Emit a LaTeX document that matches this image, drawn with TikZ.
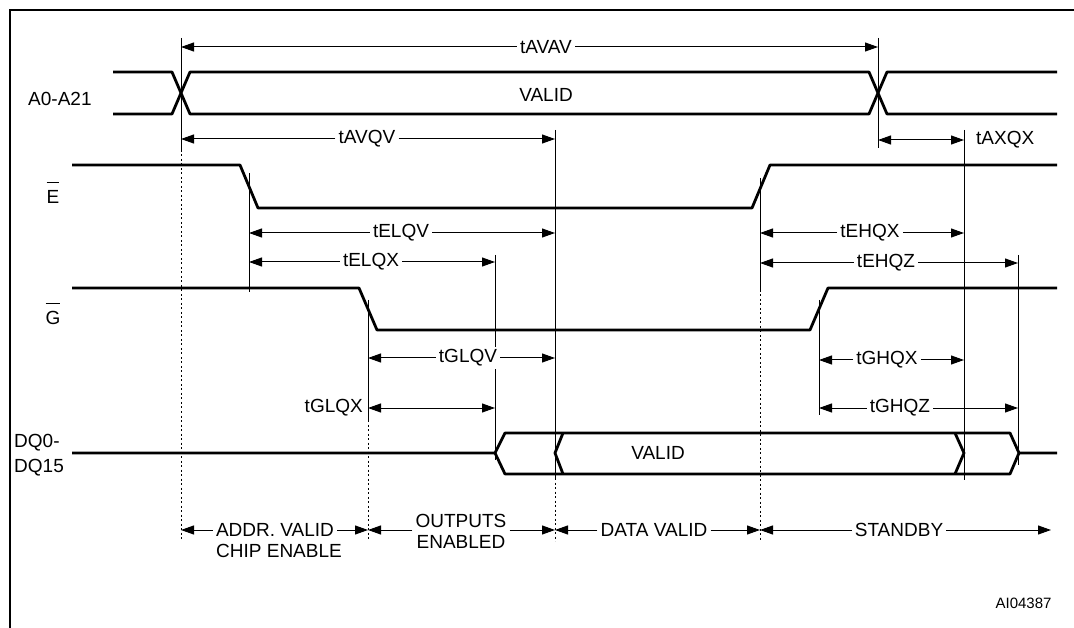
\documentclass[tikz,border=0pt]{standalone}
\usepackage{fontspec}
\setmainfont{Liberation Sans}
\usetikzlibrary{arrows.meta}
\newcommand{\lowact}[1]{$\overline{\mbox{\rule{0pt}{1.05em}#1}}$}

\begin{document}
\begin{tikzpicture}[x=1pt,y=-1pt,
	sig/.style={line width=2.8pt, line join=round},
	tline/.style={line width=1pt},
	dotline/.style={line width=1pt, dash pattern=on 2pt off 2.5pt},
	dim/.style={line width=1pt, -{Triangle[length=13pt,width=9pt]}},
	dimboth/.style={line width=1pt, {Triangle[length=13pt,width=9pt]}-{Triangle[length=13pt,width=9pt]}},
	lbl/.style={font=\fontsize{19}{23}\selectfont, inner sep=3pt, fill=white}]
	\useasboundingbox (0,0) rectangle (1074,628);
	\draw[line width=2.5pt] (10,640) -- (10,10) -- (1080,10);

	\coordinate (xa) at (181,0);
	\coordinate (xb) at (878,0);
	\coordinate (xc) at (555,0);
	\coordinate (xd) at (964,0);
	\coordinate (xe) at (249,0);
	\coordinate (xf) at (495,0);
	\coordinate (xg) at (368,0);
	\coordinate (xh) at (760,0);
	\coordinate (xi) at (819,0);
	\coordinate (xj) at (1018,0);
	\coordinate (xk) at (1051,0);

	% reference lines
	\draw[tline] (xa |- 0,38) -- (xa |- 0,150);
	\draw[dotline] (xa |- 0,150) -- (xa |- 0,541);
	\draw[tline] (xb |- 0,38) -- (xb |- 0,148);
	\draw[tline] (xc |- 0,130) -- (xc |- 0,478);
	\draw[dotline] (xc |- 0,478) -- (xc |- 0,541);
	\draw[tline] (xd |- 0,130) -- (xd |- 0,480);
	\draw[tline] (xe |- 0,173) -- (xe |- 0,292);
	\draw[tline] (xf |- 0,255) -- (xf |- 0,460);
	\draw[tline] (xg |- 0,300) -- (xg |- 0,420);
	\draw[dotline] (xg |- 0,420) -- (xg |- 0,541);
	\draw[tline] (xh |- 0,178) -- (xh |- 0,290);
	\draw[dotline] (xh |- 0,290) -- (xh |- 0,541);
	\draw[tline] (xi |- 0,300) -- (xi |- 0,415);
	\draw[tline] (xj |- 0,255) -- (xj |- 0,465);

	% signal names
	\node[lbl, anchor=west] (sigA) at (25,99) {A0-A21};
	\node[lbl] (sigE) at (53,193) {\lowact{E}};
	\node[lbl] (sigG) at (53,314) {\lowact{G}};
	\node[lbl, anchor=west, align=left, font=\fontsize{19}{25}\selectfont] (sigDQ) at (11,455) {DQ0-\\DQ15};

	% waveforms
	\draw[sig] (113,72) -- (172,72) -- (190,114) -- (869,114) -- (887,72) -- (1057,72);
	\draw[sig] (113,114) -- (172,114) -- (190,72) -- (869,72) -- (887,114) -- (1057,114);
	\draw[sig] (72,165) -- (240,165) -- (258,208) -- (752,208) -- (770,165) -- (1057,165);
	\draw[sig] (72,288) -- (359,288) -- (377,330) -- (810,330) -- (828,288) -- (1057,288);
	\draw[sig] (72,453) -- (495,453) -- (505,433) -- (1010,433) -- (1019,453) -- (1057,453);
	\draw[sig] (495,453) -- (505,474) -- (1010,474) -- (1019,453);
	\draw[sig] (563,433) -- (555,453) -- (563,474);
	\draw[sig] (955,433) -- (964,453) -- (955,474);
	\node[lbl, fill=none] (validA) at (546,95) {VALID};
	\node[lbl, fill=none] (validDQ) at (658,453) {VALID};

	% timings
	\foreach \n/\x/\y/\l/\r in {tAVAV/546/47/xa/xb, tAVQV/367/139/xa/xc, tELQV/401/233/xe/xc,
		tELQX/371/262/xe/xf, tGLQV/468/358/xg/xc, tEHQX/870/233/xh/xd, tEHQZ/886/263/xh/xj,
		tGHQX/887/360/xi/xd, tGHQZ/900/408/xi/xj} {
		\node[lbl] (\n) at (\x,\y) {\n};
		\draw[dim] (\n.west) -- (\l |- \n);
		\draw[dim] (\n.east) -- (\r |- \n);
	}
	\node[lbl, anchor=west] (tAXQX) at (973,140) {tAXQX};
	\draw[dimboth] (xb |- tAXQX) -- (xd |- tAXQX);
	\node[lbl, anchor=east] (tGLQX) at (366,408) {tGLQX};
	\draw[dimboth] (xg |- tGLQX) -- (xf |- tGLQX);

	% phases
	\node[lbl] (addr) at (275,530) {ADDR. VALID};
	\node[lbl] (chip) at (279,551) {CHIP ENABLE};
	\node[lbl] (outp) at (461,521) {OUTPUTS};
	\node[lbl] (enab) at (461,542) {ENABLED};
	\node[lbl] (data) at (654,530) {DATA VALID};
	\node[lbl] (stby) at (899,530) {STANDBY};
	\draw[dim] (addr.west) -- (xa |- addr);
	\draw[dim] (addr.east) -- (xg |- addr);
	\draw[dim] (outp.west |- addr) -- (xg |- addr);
	\draw[dim] (outp.east |- addr) -- (xc |- addr);
	\draw[dim] (data.west) -- (xc |- data);
	\draw[dim] (data.east) -- (xh |- data);
	\draw[dim] (stby.west) -- (xh |- stby);
	\draw[dim] (stby.east) -- (xk |- stby);

	\node[font=\fontsize{15}{18}\selectfont, anchor=east] (fig) at (1055,603) {AI04387};
\end{tikzpicture}
\end{document}
